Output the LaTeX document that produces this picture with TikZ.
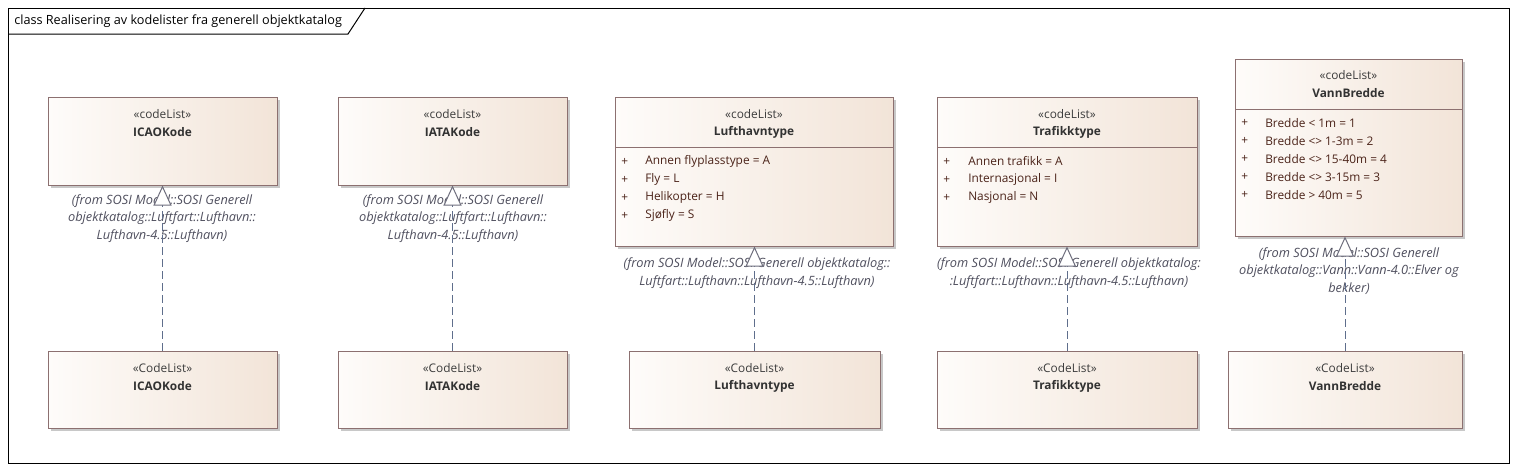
\documentclass[tikz,border=0pt]{standalone}
\usepackage{fontspec}
\setmainfont{Open Sans}
\usetikzlibrary{arrows.meta,shadows}
\definecolor{boxborder}{RGB}{140,112,112}
\definecolor{fillL}{RGB}{254,252,250}
\definecolor{fillR}{RGB}{242,228,216}
\definecolor{shadowc}{RGB}{200,200,200}
\definecolor{stereoc}{RGB}{60,60,60}
\definecolor{namec}{RGB}{50,50,50}
\definecolor{attrc}{RGB}{75,35,25}
\definecolor{labelc}{RGB}{80,80,95}
\definecolor{linec}{RGB}{95,110,140}
\definecolor{tric}{RGB}{110,110,125}
\begin{document}
\begin{tikzpicture}[x=0.75pt,y=-0.75pt,
  font=\fontsize{8.9}{10.5}\selectfont,
  classbox/.style={draw=boxborder, line width=0.75pt, left color=fillL, right color=fillR,
    rectangle, inner sep=0pt,
    drop shadow={shadow xshift=2.25pt, shadow yshift=-2.25pt, fill=shadowc, opacity=1}},
  stereo/.style={text=stereoc, inner sep=0pt},
  cname/.style={text=namec, font=\fontsize{8.9}{10.5}\selectfont\bfseries, inner sep=0pt},
  attr/.style={text=attrc, anchor=west, inner sep=0pt},
  lbl/.style={text=labelc, align=center, inner sep=0pt, font=\fontsize{9.6}{13.2}\selectfont\itshape},
  divider/.style={draw=boxborder, line width=0.75pt},
  realize/.style={draw=linec, line width=0.75pt, dash pattern=on 6pt off 3pt,
    -{Triangle[color=tric, fill=white, length=15pt, width=13.5pt, line width=0.75pt]}}
]
\useasboundingbox (0,0) rectangle (1517,471);
\fill[white] (0,0) rectangle (1517,471);
% frame
\draw[black, line width=0.75pt] (8,8) rectangle (1509,463);
\draw[black, line width=0.75pt] (8,34) -- (348,34) -- (365,8);
\node[anchor=west, inner sep=0pt, text=black, font=\fontsize{9.5}{11}\selectfont] (title) at (14,21) {class Realisering av kodelister fra generell objektkatalog};

% ---- top boxes ----
\node[classbox, minimum width=171.75pt, minimum height=66pt] (icaoT) at (162.5,141) {};
\node[stereo] (icaoTs) at (162.5,114) {«codeList»};
\node[cname] (icaoTn) at (162.5,132) {ICAOKode};

\node[classbox, minimum width=171.75pt, minimum height=66pt] (iataT) at (452.5,141) {};
\node[stereo] (iataTs) at (452.5,114) {«codeList»};
\node[cname] (iataTn) at (452.5,132) {IATAKode};

\node[classbox, minimum width=208.5pt, minimum height=111.75pt] (lufT) at (754,171.5) {};
\node[stereo] (lufTs) at (754,114) {«codeList»};
\node[cname] (lufTn) at (754,132) {Lufthavntype};
\draw[divider] (615,147) -- (893,147);
\node[attr] (lufp1) at (621,161.5) {+};
\node[attr] (lufa1) at (645,161.5) {Annen flyplasstype = A};
\node[attr] (lufp2) at (621,179.5) {+};
\node[attr] (lufa2) at (645,179.5) {Fly = L};
\node[attr] (lufp3) at (621,197.5) {+};
\node[attr] (lufa3) at (645,197.5) {Helikopter = H};
\node[attr] (lufp4) at (621,215.5) {+};
\node[attr] (lufa4) at (645,215.5) {Sjøfly = S};

\node[classbox, minimum width=195pt, minimum height=111.75pt] (traT) at (1067,171.5) {};
\node[stereo] (traTs) at (1067,114) {«codeList»};
\node[cname] (traTn) at (1067,132) {Trafikktype};
\draw[divider] (937,147) -- (1197,147);
\node[attr] (trap1) at (943,161.5) {+};
\node[attr] (traa1) at (968,161.5) {Annen trafikk = A};
\node[attr] (trap2) at (943,179.5) {+};
\node[attr] (traa2) at (968,179.5) {Internasjonal = I};
\node[attr] (trap3) at (943,197.5) {+};
\node[attr] (traa3) at (968,197.5) {Nasjonal = N};

\node[classbox, minimum width=170.25pt, minimum height=132.75pt] (vanT) at (1348.5,147.5) {};
\node[stereo] (vanTs) at (1348.5,75) {«codeList»};
\node[cname] (vanTn) at (1348.5,93) {VannBredde};
\draw[divider] (1235,109) -- (1462,109);
\node[attr] (vanp1) at (1241,123) {+};
\node[attr] (vana1) at (1265,123) {Bredde < 1m = 1};
\node[attr] (vanp2) at (1241,141) {+};
\node[attr] (vana2) at (1265,141) {Bredde <> 1-3m = 2};
\node[attr] (vanp3) at (1241,159) {+};
\node[attr] (vana3) at (1265,159) {Bredde <> 15-40m = 4};
\node[attr] (vanp4) at (1241,177) {+};
\node[attr] (vana4) at (1265,177) {Bredde <> 3-15m = 3};
\node[attr] (vanp5) at (1241,195) {+};
\node[attr] (vana5) at (1265,195) {Bredde > 40m = 5};

% ---- bottom boxes ----
\node[classbox, minimum width=171.75pt, minimum height=57.75pt] (icaoB) at (162.5,389.5) {};
\node[stereo] (icaoBs) at (162.5,368) {«CodeList»};
\node[cname] (icaoBn) at (162.5,386) {ICAOKode};

\node[classbox, minimum width=171.75pt, minimum height=57.75pt] (iataB) at (452.5,389.5) {};
\node[stereo] (iataBs) at (452.5,368) {«CodeList»};
\node[cname] (iataBn) at (452.5,386) {IATAKode};

\node[classbox, minimum width=188.25pt, minimum height=57.75pt] (lufB) at (754.5,389.5) {};
\node[stereo] (lufBs) at (754.5,368) {«CodeList»};
\node[cname] (lufBn) at (754.5,386) {Lufthavntype};

\node[classbox, minimum width=195pt, minimum height=57.75pt] (traB) at (1067,389.5) {};
\node[stereo] (traBs) at (1067,368) {«CodeList»};
\node[cname] (traBn) at (1067,386) {Trafikktype};

\node[classbox, minimum width=175.5pt, minimum height=57.75pt] (vanB) at (1345,389.5) {};
\node[stereo] (vanBs) at (1345,368) {«CodeList»};
\node[cname] (vanBn) at (1345,386) {VannBredde};

% ---- labels ----
\node[lbl] (icaoL) at (162,218.5) {(from SOSI Model::SOSI Generell\\objektkatalog::Luftfart::Lufthavn::\\Lufthavn-4.5::Lufthavn)};
\node[lbl] (iataL) at (453,218.5) {(from SOSI Model::SOSI Generell\\objektkatalog::Luftfart::Lufthavn::\\Lufthavn-4.5::Lufthavn)};
\node[lbl] (lufL) at (757,273) {(from SOSI Model::SOSI Generell objektkatalog::\\Luftfart::Lufthavn::Lufthavn-4.5::Lufthavn)};
\node[lbl] (traL) at (1069,273) {(from SOSI Model::SOSI Generell objektkatalog:\\:Luftfart::Lufthavn::Lufthavn-4.5::Lufthavn)};
\node[lbl] (vanL) at (1349,271) {(from SOSI Model::SOSI Generell\\objektkatalog::Vann::Vann-4.0::Elver og\\bekker)};

% ---- realizations ----
\draw[realize] (icaoB.north) -- (icaoT.south);
\draw[realize] (iataB.north) -- (iataT.south);
\draw[realize] (lufB.north) -- (lufB.north |- lufT.south);
\draw[realize] (traB.north) -- (traT.south);
\draw[realize] (vanB.north) -- (vanB.north |- vanT.south);
\end{tikzpicture}
\end{document}
